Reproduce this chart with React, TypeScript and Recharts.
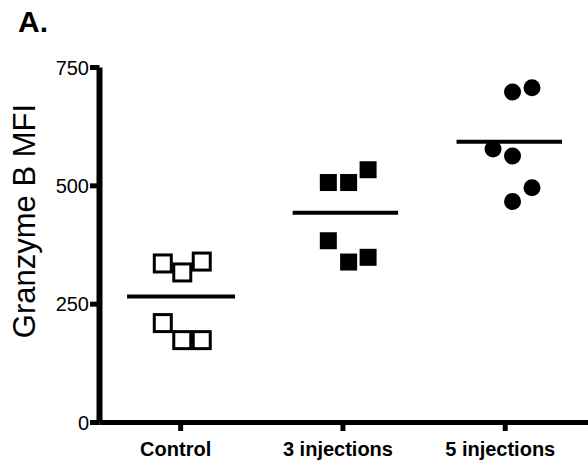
import React from "react";
import {
  ScatterChart,
  Scatter,
  XAxis,
  YAxis,
  ReferenceLine,
} from "recharts";

const categories = ["Control", "3 injections", "5 injections"];
const yTicks = [0, 250, 500, 750];

// values, with the horizontal jitter of each point
const controlValues = [336, 317, 340, 210, 174, 174];
const controlJitter = [-0.11, 0.01, 0.13, -0.11, 0.01, 0.13];
const inj3Values = [507, 507, 534, 384, 339, 349];
const inj3Jitter = [-0.09, 0.035, 0.155, -0.09, 0.035, 0.155];
const inj5Values = [698, 707, 578, 563, 496, 467];
const inj5Jitter = [0.045, 0.165, -0.075, 0.045, 0.165, 0.045];

const means = [266, 443, 593];
const meanLeft = [-0.33, -0.31, -0.3];
const meanRight = [0.335, 0.34, 0.35];

const FONT = "'Liberation Sans', Arial, Helvetica, sans-serif";

const toPoints = (group: number, values: number[], jitter: number[]) =>
  values.map((v, i) => ({ x: group + jitter[i], y: v }));

const controlData = toPoints(0, controlValues, controlJitter);
const inj3Data = toPoints(1, inj3Values, inj3Jitter);
const inj5Data = toPoints(2, inj5Values, inj5Jitter);

const OpenSquare = (props: any) => {
  const { cx, cy } = props;
  return (
    <rect
      x={cx - 8.5}
      y={cy - 8.5}
      width={17}
      height={17}
      fill="#fff"
      stroke="#000"
      strokeWidth={3}
    />
  );
};

const FilledSquare = (props: any) => {
  const { cx, cy } = props;
  return <rect x={cx - 8.5} y={cy - 8.5} width={17} height={17} fill="#000" />;
};

const FilledCircle = (props: any) => {
  const { cx, cy } = props;
  return <circle cx={cx} cy={cy} r={8.5} fill="#000" />;
};

const XTick = (props: any) => {
  const { x, y, payload } = props;
  return (
    <text
      x={x - 5}
      y={y}
      dy={14}
      textAnchor="middle"
      fontFamily={FONT}
      fontSize={20}
      fontWeight="bold"
      fill="#000"
    >
      {categories[payload.value]}
    </text>
  );
};

const YLabel = () => (
  <text
    x={35}
    y={221}
    transform="rotate(-90, 35, 221)"
    textAnchor="middle"
    fontFamily={FONT}
    fontSize={31}
    fill="#000"
  >
    Granzyme B MFI
  </text>
);

export default function App() {
  return (
    <div style={{ position: "absolute", left: 0, top: 0, width: 588, height: 466 }}>
      <ScatterChart
        width={588}
        height={466}
        margin={{ top: 67.5, right: 0, bottom: 0, left: 0 }}
      >
        <XAxis
          type="number"
          dataKey="x"
          domain={[-0.5, 2.51]}
          ticks={[0, 1, 2]}
          height={43.5}
          axisLine={{ stroke: "#000", strokeWidth: 5 }}
          tickLine={{ stroke: "#000", strokeWidth: 5 }}
          tickSize={8.5}
          tickMargin={11}
          tick={<XTick />}
          allowDataOverflow
        />
        <YAxis
          type="number"
          dataKey="y"
          domain={[0, 750]}
          ticks={yTicks}
          width={99.5}
          axisLine={{ stroke: "#000", strokeWidth: 6 }}
          tickLine={{ stroke: "#000", strokeWidth: 5 }}
          tickSize={9.5}
          tickMargin={1}
          tick={{ fill: "#000", fontSize: 20, fontFamily: FONT }}
          label={() => <YLabel />}
        />
        {means.map((m, i) => (
          <ReferenceLine
            key={i}
            segment={[
              { x: i + meanLeft[i], y: m },
              { x: i + meanRight[i], y: m },
            ]}
            stroke="#000"
            strokeWidth={4}
          />
        ))}
        <Scatter data={controlData} shape={<OpenSquare />} isAnimationActive={false} />
        <Scatter data={inj3Data} shape={<FilledSquare />} isAnimationActive={false} />
        <Scatter data={inj5Data} shape={<FilledCircle />} isAnimationActive={false} />
      </ScatterChart>
      <svg
        width={80}
        height={50}
        style={{ position: "absolute", left: 0, top: 0 }}
      >
        <text x={18} y={32} fontFamily={FONT} fontSize={30} fontWeight="bold" fill="#000">
          A.
        </text>
      </svg>
    </div>
  );
}
